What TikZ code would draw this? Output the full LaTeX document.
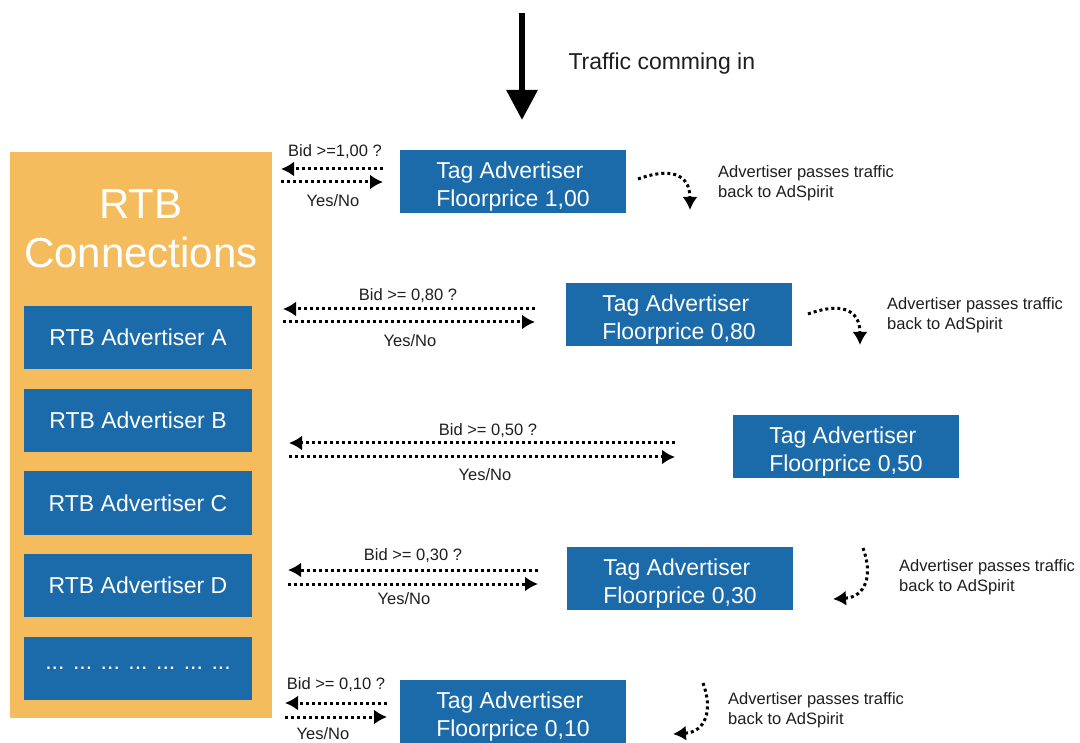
\documentclass[tikz,border=0pt]{standalone}
\usepackage{fontspec}
\setmainfont{Liberation Sans}
\usetikzlibrary{arrows.meta,positioning}
\definecolor{rtborange}{RGB}{245,188,94}
\definecolor{adblue}{RGB}{27,106,170}
\definecolor{labelgray}{RGB}{30,30,30}
\tikzstyle{panel} = [fill=rtborange, minimum width=262pt, minimum height=566pt, inner sep=0pt]
\tikzstyle{rtbbox} = [fill=adblue, text=white, minimum width=228pt, minimum height=63pt, inner sep=0pt, font=\fontsize{23}{28}\selectfont]
\tikzstyle{tagbox} = [fill=adblue, text=white, align=left, minimum width=226pt, minimum height=63pt, inner sep=0pt, text height=55pt, text depth=5pt, font=\fontsize{23}{28}\selectfont]
\tikzstyle{bidlabel} = [text=labelgray, inner sep=0pt, font=\fontsize{16.5}{20}\selectfont]
\tikzstyle{note} = [bidlabel, align=left, anchor=west]
\tikzstyle{dotarrow} = [line width=3pt, dash pattern=on 3pt off 3pt, -{Latex[length=13pt,width=15pt]}]

\begin{document}
\begin{tikzpicture}[x=1pt, y=-1pt]
   \useasboundingbox (0,0) rectangle (1080,743);
%   incoming traffic
   \coordinate (TrafficTop) at (522,13);
   \coordinate (TrafficTip) at (522,120);
   \draw[line width=6pt, -{Triangle[length=30pt,width=30pt]}] (TrafficTop) -- (TrafficTip);
   \node (TrafficLabel) at (565,64) [anchor=west, text=labelgray, font=\fontsize{23}{28}\selectfont] {Traffic comming in};

%   rtb side
   \node (RTBPanel) at (141,435) [panel] {};
   \node (RTBTitle) at (141,229) [align=center, text=white, font=\fontsize{42}{49}\selectfont] {RTB\\Connections};
   \node (RTBAdvA) at (138,337.5) [rtbbox] {RTB Advertiser A};
   \node (RTBAdvB) at (138,420.5) [rtbbox] {RTB Advertiser B};
   \node (RTBAdvC) at (138,503) [rtbbox] {RTB Advertiser C};
   \node (RTBAdvD) at (138,585.5) [rtbbox] {RTB Advertiser D};
   \node (RTBAdvMore) at (138,668.5) [rtbbox] {... ... ... ... ... ... ...};

%   tag advertisers
   \node (TagOne) at (513,181.5) [tagbox] {Tag Advertiser\\Floorprice 1,00};
   \node (TagTwo) at (679,314.5) [tagbox] {Tag Advertiser\\Floorprice 0,80};
   \node (TagThree) at (846,446.5) [tagbox] {Tag Advertiser\\Floorprice 0,50};
   \node (TagFour) at (680,578.5) [tagbox] {Tag Advertiser\\Floorprice 0,30};
   \node (TagFive) at (513,711.5) [tagbox] {Tag Advertiser\\Floorprice 0,10};

%   bid requests and answers
   \coordinate (BidOneL) at (281,169);  \coordinate (BidOneR) at (383,169);
   \coordinate (AnsOneL) at (281,182);  \coordinate (AnsOneR) at (383,182);
   \draw[dotarrow] (BidOneR) -- (BidOneL);
   \draw[dotarrow] (AnsOneL) -- (AnsOneR);
   \node (BidOneText) at (335,152) [bidlabel] {Bid >=1,00 ?};
   \node (AnsOneText) at (333,201) [bidlabel] {Yes/No};

   \coordinate (BidTwoL) at (283,309);  \coordinate (BidTwoR) at (535,309);
   \coordinate (AnsTwoL) at (283,322);  \coordinate (AnsTwoR) at (535,322);
   \draw[dotarrow] (BidTwoR) -- (BidTwoL);
   \draw[dotarrow] (AnsTwoL) -- (AnsTwoR);
   \node (BidTwoText) at (408,296) [bidlabel] {Bid >= 0,80 ?};
   \node (AnsTwoText) at (410,341) [bidlabel] {Yes/No};

   \coordinate (BidThreeL) at (289,443);  \coordinate (BidThreeR) at (675,443);
   \coordinate (AnsThreeL) at (289,457);  \coordinate (AnsThreeR) at (675,457);
   \draw[dotarrow] (BidThreeR) -- (BidThreeL);
   \draw[dotarrow] (AnsThreeL) -- (AnsThreeR);
   \node (BidThreeText) at (488,431) [bidlabel] {Bid >= 0,50 ?};
   \node (AnsThreeText) at (485,475) [bidlabel] {Yes/No};

   \coordinate (BidFourL) at (288,570);  \coordinate (BidFourR) at (538,570);
   \coordinate (AnsFourL) at (288,584);  \coordinate (AnsFourR) at (538,584);
   \draw[dotarrow] (BidFourR) -- (BidFourL);
   \draw[dotarrow] (AnsFourL) -- (AnsFourR);
   \node (BidFourText) at (413,556) [bidlabel] {Bid >= 0,30 ?};
   \node (AnsFourText) at (404,599) [bidlabel] {Yes/No};

   \coordinate (BidFiveL) at (285,703);  \coordinate (BidFiveR) at (387,703);
   \coordinate (AnsFiveL) at (285,717);  \coordinate (AnsFiveR) at (387,717);
   \draw[dotarrow] (BidFiveR) -- (BidFiveL);
   \draw[dotarrow] (AnsFiveL) -- (AnsFiveR);
   \node (BidFiveText) at (336,685) [bidlabel] {Bid >= 0,10 ?};
   \node (AnsFiveText) at (323,734) [bidlabel] {Yes/No};

%   traffic passed back
   \coordinate (PassOneS) at (638,179);  \coordinate (PassOneE) at (690,210);
   \draw[dotarrow] (PassOneS) .. controls (668,168) and (690,172) .. (PassOneE);
   \node (NoteOne) at (718,183) [note] {Advertiser passes traffic\\back to AdSpirit};

   \coordinate (PassTwoS) at (808,314);  \coordinate (PassTwoE) at (860,345);
   \draw[dotarrow] (PassTwoS) .. controls (838,303) and (860,307) .. (PassTwoE);
   \node (NoteTwo) at (887,315) [note] {Advertiser passes traffic\\back to AdSpirit};

   \coordinate (PassFourS) at (863,548);  \coordinate (PassFourE) at (833,599);
   \draw[dotarrow] (PassFourS) .. controls (873,575) and (866,597) .. (PassFourE);
   \node (NoteFour) at (899,577) [note] {Advertiser passes traffic\\back to AdSpirit};

   \coordinate (PassFiveS) at (703,683);  \coordinate (PassFiveE) at (673,734);
   \draw[dotarrow] (PassFiveS) .. controls (713,710) and (706,732) .. (PassFiveE);
   \node (NoteFive) at (728,710) [note] {Advertiser passes traffic\\back to AdSpirit};

\end{tikzpicture}
\end{document}
